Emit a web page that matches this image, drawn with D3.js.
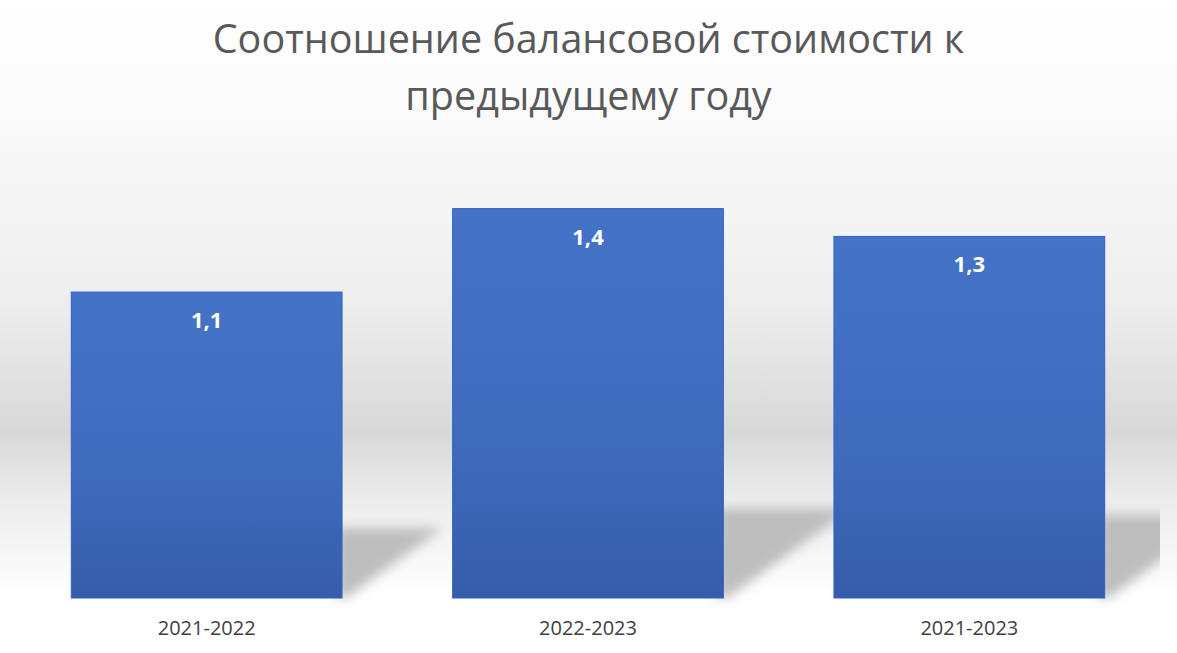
<!DOCTYPE html>
<html lang="ru">
<head>
<meta charset="utf-8">
<title>Соотношение балансовой стоимости</title>
<script src="https://d3js.org/d3.v7.min.js"></script>
<style>
  html, body { margin: 0; padding: 0; background: #fff; }
  svg { display: block; }
</style>
</head>
<body>
<script>
  // data
  var periods = ["2021-2022", "2022-2023", "2021-2023"];
  var ratios = [1.1, 1.4, 1.3];
  var ratioLabels = ["1,1", "1,4", "1,3"];
  var titleLines = ["Соотношение балансовой стоимости к", "предыдущему году"];

  var w = 1177, h = 653;
  var margin = {top: 153, right: 17, bottom: 55, left: 16};
  var innerW = w - margin.left - margin.right;
  var innerH = h - margin.top - margin.bottom;

  var svg = d3.select("body").append("svg")
    .attr("width", w)
    .attr("height", h);

  var defs = svg.append("defs");

  // background band (grey floor)
  var bg = defs.append("linearGradient")
    .attr("id", "bg")
    .attr("gradientUnits", "userSpaceOnUse")
    .attr("x1", 0).attr("y1", 0).attr("x2", 0).attr("y2", h);
  [[0, "#ffffff"], [120, "#fafafa"], [300, "#eeeeee"], [433, "#d8d8d8"],
   [500, "#ececec"], [560, "#f8f8f8"], [596, "#ffffff"], [653, "#ffffff"]]
    .forEach(function(s) {
      bg.append("stop").attr("offset", s[0] / h).attr("stop-color", s[1]);
    });

  var barGrad = defs.append("linearGradient")
    .attr("id", "barGrad")
    .attr("x1", 0).attr("y1", 0).attr("x2", 0).attr("y2", 1);
  barGrad.append("stop").attr("offset", 0).attr("stop-color", "#4473c7");
  barGrad.append("stop").attr("offset", 0.6).attr("stop-color", "#3f6bbd");
  barGrad.append("stop").attr("offset", 1).attr("stop-color", "#365da9");

  defs.append("filter").attr("id", "blur")
    .attr("x", "-20%").attr("y", "-20%").attr("width", "140%").attr("height", "140%")
    .append("feGaussianBlur").attr("stdDeviation", 6);

  defs.append("clipPath").attr("id", "plotClip")
    .append("rect").attr("x", 0).attr("y", -margin.top).attr("width", innerW).attr("height", h);

  svg.append("rect")
    .attr("width", w).attr("height", h)
    .attr("fill", "url(#bg)");

  // title
  svg.append("g").selectAll("text")
    .data(titleLines)
    .enter().append("text")
    .attr("x", w / 2)
    .attr("y", (d, i) => 53 + i * 57)
    .attr("text-anchor", "middle")
    .attr("font-family", "'Open Sans', sans-serif")
    .attr("font-size", 39.5)
    .attr("fill", "#595959")
    .text(d => d);

  // scales
  var xScale = d3.scaleBand()
    .domain(periods)
    .range([0, innerW])
    .paddingInner(0.29)
    .paddingOuter(0.145);

  var yScale = d3.scaleLinear()
    .domain([0, 1.6])
    .range([innerH, 0]);

  var g = svg.append("g")
    .attr("transform", `translate(${margin.left}, ${margin.top})`);

  // shadows cast to the right of each bar
  var shadows = g.append("g").attr("clip-path", "url(#plotClip)");
  shadows.selectAll("path")
    .data(ratios)
    .enter().append("path")
    .attr("d", function(d, i) {
      var x0 = xScale(periods[i]), x1 = x0 + xScale.bandwidth();
      var bh = innerH - yScale(d);
      var dy = bh * 0.23, dx = bh * 0.33;
      return "M" + (x1 - 6) + "," + innerH +
        "L" + (x1 + 4) + "," + innerH +
        "L" + (x1 + dx) + "," + (innerH - dy) +
        "L" + (x1 - 6) + "," + (innerH - dy) + "Z";
    })
    .attr("fill", "#bdbdbd")
    .attr("filter", "url(#blur)");

  // bars
  g.selectAll("rect.bar")
    .data(ratios)
    .enter().append("rect")
    .attr("class", "bar")
    .attr("x", (d, i) => xScale(periods[i]))
    .attr("y", d => yScale(d))
    .attr("width", xScale.bandwidth())
    .attr("height", d => innerH - yScale(d))
    .attr("fill", "url(#barGrad)")
    .attr("stroke", "#2d62c8")
    .attr("stroke-width", 1);

  // value labels
  g.selectAll("text.val")
    .data(ratios)
    .enter().append("text")
    .attr("class", "val")
    .attr("x", (d, i) => xScale(periods[i]) + xScale.bandwidth() / 2)
    .attr("y", d => yScale(d) + 36)
    .attr("text-anchor", "middle")
    .attr("font-family", "'Open Sans', sans-serif")
    .attr("font-weight", "bold")
    .attr("font-size", 22)
    .attr("fill", "#ffffff")
    .text((d, i) => ratioLabels[i]);

  // category axis
  var xAxis = d3.axisBottom(xScale).tickSize(0).tickPadding(23);
  var ax = g.append("g")
    .attr("transform", `translate(0, ${innerH})`)
    .call(xAxis);
  ax.select(".domain").remove();
  ax.selectAll("text")
    .attr("font-family", "'Open Sans', sans-serif")
    .attr("font-size", 20)
    .attr("fill", "#404040");
</script>
</body>
</html>
